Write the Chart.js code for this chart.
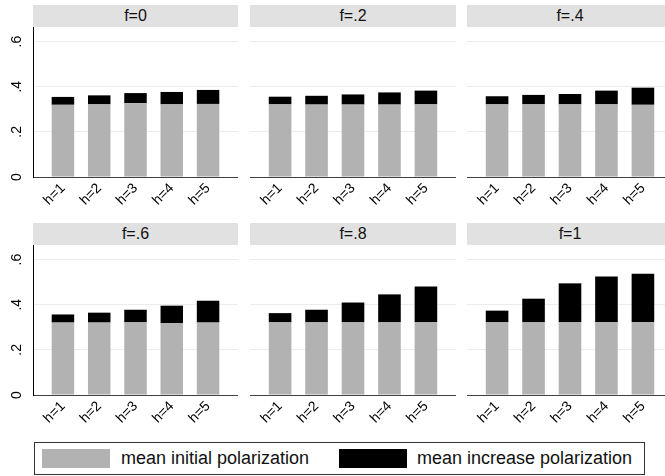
<!DOCTYPE html>
<html>
<head>
<meta charset="utf-8">
<script src="https://cdn.jsdelivr.net/npm/chart.js@4.4.1/dist/chart.umd.min.js"></script>
<style>
  html, body { margin: 0; padding: 0; background: #fff; }
  #wrap { position: relative; width: 665px; height: 476px; overflow: hidden; background: #fff;
          font-family: "Liberation Sans", Arial, sans-serif; }
  .strip { position: absolute; height: 22px; line-height: 22px; background: #e1e1e1;
           text-align: center; font-size: 16px; color: #111; }
  .cell { position: absolute; }
  #legend { position: absolute; left: 34px; top: 442px; width: 611px; height: 33px;
            border: 1px solid #333; box-sizing: border-box; font-size: 18px; color: #111; }
  .sw { position: absolute; top: 6px; width: 68px; height: 19px; }
  .lt { position: absolute; top: 4px; line-height: 22px; white-space: nowrap; }
</style>
</head>
<body>
<div id="wrap">
  <div id="legend">
    <div class="sw" style="left:7px;background:#b2b2b2"></div>
    <div class="lt" style="left:86px">mean initial polarization</div>
    <div class="sw" style="left:304px;background:#000"></div>
    <div class="lt" style="left:382px">mean increase polarization</div>
  </div>
</div>
<script>
// categories and values
var categories = ["h=1", "h=2", "h=3", "h=4", "h=5"];
var panelTitles = ["f=0", "f=.2", "f=.4", "f=.6", "f=.8", "f=1"];
var yTickValues = [0, 0.2, 0.4, 0.6];
var yTickLabels = ["0", ".2", ".4", ".6"];

var initialF0  = [0.320, 0.322, 0.327, 0.322, 0.324];
var increaseF0 = [0.035, 0.040, 0.045, 0.055, 0.062];
var initialF2  = [0.322, 0.321, 0.321, 0.321, 0.322];
var increaseF2 = [0.034, 0.039, 0.045, 0.054, 0.061];
var initialF4  = [0.322, 0.322, 0.322, 0.322, 0.320];
var increaseF4 = [0.036, 0.042, 0.046, 0.061, 0.076];
var initialF6  = [0.321, 0.321, 0.322, 0.318, 0.321];
var increaseF6 = [0.036, 0.044, 0.056, 0.078, 0.097];
var initialF8  = [0.322, 0.322, 0.322, 0.322, 0.322];
var increaseF8 = [0.041, 0.056, 0.088, 0.124, 0.159];
var initialF10  = [0.322, 0.322, 0.322, 0.322, 0.322];
var increaseF10 = [0.052, 0.105, 0.173, 0.203, 0.216];

var initialSeries = [initialF0, initialF2, initialF4, initialF6, initialF8, initialF10];
var increaseSeries = [increaseF0, increaseF2, increaseF4, increaseF6, increaseF8, increaseF10];

// layout of the 2 x 3 grid
var colLeft = [0, 250, 467];
var colWidth = [238, 206, 206];
var yAxisW = [33, 0, 0];
var stripTop = [5, 223];
var plotTop = [27, 245];
var plotH = 150;
var labelH = 40;

function toPoints(arr) {
    return arr.map(function(v, i) { return { x: i + 1, y: v }; });
}

var wrap = document.getElementById("wrap");

panelTitles.forEach(function(title, p) {
    var row = Math.floor(p / 3);
    var col = p % 3;

    var strip = document.createElement("div");
    strip.className = "strip";
    strip.style.left = (colLeft[col] + yAxisW[col]) + "px";
    strip.style.top = stripTop[row] + "px";
    strip.style.width = (colWidth[col] - yAxisW[col]) + "px";
    strip.textContent = title;
    wrap.appendChild(strip);

    var cell = document.createElement("div");
    cell.className = "cell";
    cell.style.left = colLeft[col] + "px";
    cell.style.top = plotTop[row] + "px";
    cell.style.width = colWidth[col] + "px";
    cell.style.height = (plotH + labelH) + "px";
    var canvas = document.createElement("canvas");
    cell.appendChild(canvas);
    wrap.appendChild(cell);

    new Chart(canvas, {
        type: "bar",
        data: {
            datasets: [
                {
                    label: "mean initial polarization",
                    data: toPoints(initialSeries[p]),
                    backgroundColor: "#b2b2b2",
                    borderWidth: 0
                },
                {
                    label: "mean increase polarization",
                    data: toPoints(increaseSeries[p]),
                    backgroundColor: "#000000",
                    borderWidth: 0
                }
            ]
        },
        options: {
            responsive: true,
            maintainAspectRatio: false,
            animation: false,
            devicePixelRatio: 1,
            layout: { padding: 0 },
            categoryPercentage: 1,
            barPercentage: 0.62,
            plugins: { legend: { display: false }, tooltip: { enabled: false }, title: { display: false } },
            scales: {
                x: {
                    type: "linear",
                    stacked: true,
                    offset: false,
                    min: 0.175,
                    max: 5.825,
                    afterBuildTicks: function(s) {
                        s.ticks = categories.map(function(c, i) { return { value: i + 1 }; });
                    },
                    afterFit: function(s) {
                        s.height = labelH;
                        s.paddingLeft = 0;
                        s.paddingRight = 0;
                    },
                    grid: { display: true, offset: false, color: "rgba(0,0,0,0)", drawTicks: false },
                    border: { display: true, color: "#404040", width: 1 },
                    ticks: {
                        autoSkip: false,
                        minRotation: 45,
                        maxRotation: 45,
                        padding: 3,
                        color: "#000",
                        font: { family: "Liberation Sans", size: 14 },
                        callback: function(v) { return categories[v - 1]; }
                    }
                },
                y: {
                    stacked: true,
                    min: 0,
                    max: 0.665,
                    afterBuildTicks: function(s) {
                        s.ticks = yTickValues.map(function(v) { return { value: v }; });
                    },
                    afterFit: function(s) {
                        s.width = yAxisW[col];
                        s.paddingTop = 0;
                        s.paddingBottom = 0;
                    },
                    grid: {
                        drawTicks: false,
                        color: function(ctx) { return ctx.tick && ctx.tick.value === 0 ? "rgba(0,0,0,0)" : "#ececec"; }
                    },
                    border: { display: col === 0, color: "#000", width: 1 },
                    ticks: {
                        display: col === 0,
                        minRotation: 90,
                        maxRotation: 90,
                        crossAlign: "center",
                        padding: 10,
                        color: "#000",
                        font: { family: "Liberation Sans", size: 14 },
                        callback: function(v) { return yTickLabels[yTickValues.indexOf(v)]; }
                    }
                }
            }
        }
    });
});
</script>
</body>
</html>
